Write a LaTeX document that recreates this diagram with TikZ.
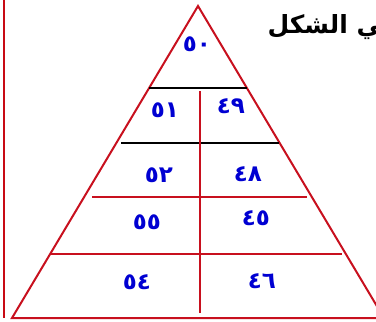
\documentclass[tikz,border=0pt]{standalone}
\usepackage{fontspec}
\newfontfamily\arabicfont[Script=Arabic]{DejaVu Sans}
\TeXXeTstate=1
\definecolor{tri}{RGB}{200,16,30}
\definecolor{frame}{RGB}{200,10,20}
\definecolor{num}{RGB}{0,0,210}
\tikzset{
  redline/.style={draw=tri, line width=2pt},
  blackline/.style={draw=black, line width=2pt},
  numlbl/.style={text=num, font=\arabicfont\bfseries\fontsize{23}{23}\selectfont, inner sep=0pt},
  titlelbl/.style={text=black, font=\arabicfont\bfseries\fontsize{25}{25}\selectfont, inner sep=0pt}
}
\begin{document}
\begin{tikzpicture}[x=1pt,y=-1pt]
\useasboundingbox (0,0) rectangle (376,322);
\clip (0,0) rectangle (376,322);
\fill[white] (0,0) rectangle (376,322);
% frame line on the left
\coordinate (ft) at (4,0);
\coordinate (fb) at (4,318);
\draw[draw=frame, line width=2.6pt] (ft) -- (fb);
% triangle
\coordinate (A) at (198,6);
\coordinate (BL) at (12,318);
\coordinate (BR) at (384,318);
\draw[redline, line join=miter] (BL) -- (A) -- (BR) -- cycle;
% horizontal lines
\coordinate (h1l) at (149,88);  \coordinate (h1r) at (247,88);
\coordinate (h2l) at (121,143); \coordinate (h2r) at (279,143);
\coordinate (h3l) at (92,197);  \coordinate (h3r) at (307,197);
\coordinate (h4l) at (51,254);  \coordinate (h4r) at (342,254);
\draw[blackline] (h1l) -- (h1r);
\draw[blackline] (h2l) -- (h2r);
\draw[redline] (h3l) -- (h3r);
\draw[redline] (h4l) -- (h4r);
% vertical line
\coordinate (vt) at (200,91);
\coordinate (vb) at (200,313);
\draw[redline] (vt) -- (vb);
% numbers
\node[numlbl] (n50) at (197,44) {٥٠};
\node[numlbl] (n51) at (165,110) {٥١};
\node[numlbl] (n49) at (231,106) {٤٩};
\node[numlbl] (n52) at (159,175) {٥٢};
\node[numlbl] (n48) at (248,174) {٤٨};
\node[numlbl] (n55) at (147,222) {٥٥};
\node[numlbl] (n45) at (256,218) {٤٥};
\node[numlbl] (n54) at (137,282) {٥٤};
\node[numlbl] (n46) at (262,281) {٤٦};
% title
\node[titlelbl, anchor=east] (title) at (382,27) {\beginR ‍ي الشكل\endR};
\end{tikzpicture}
\end{document}
